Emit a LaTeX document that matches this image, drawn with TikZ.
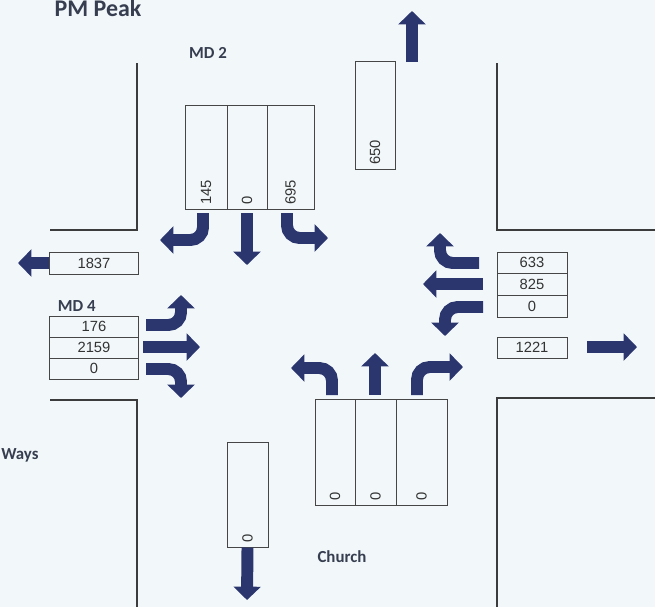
\documentclass[tikz,border=0pt]{standalone}
\usepackage{fontspec}
\setmainfont{Carlito}
\newfontfamily\numfont{Liberation Sans}
\usetikzlibrary{arrows.meta}
\definecolor{roadline}{RGB}{60, 60, 60}
\definecolor{boxline}{RGB}{70, 70, 70}
\definecolor{arrownavy}{RGB}{44, 54, 110}
\definecolor{papertint}{RGB}{242, 248, 250}
\definecolor{labelgray}{RGB}{55, 62, 80}

\begin{document}
\begin{tikzpicture}[x=0.025cm, y=-0.025cm,
    road/.style={draw=roadline, line width=0.8pt},
    hbox/.style={rectangle, draw=boxline, line width=0.7pt,
                 minimum width=2.2cm, minimum height=0.525cm,
                 inner sep=0pt, text=black!80,
                 font=\numfont\fontsize{10.5}{12}\selectfont},
    ebox/.style={hbox, minimum width=1.75cm, minimum height=0.54cm},
    lane/.style={rectangle, draw=boxline, line width=0.7pt,
                 minimum height=2.6cm, inner sep=0pt},
    vnum/.style={rotate=90, anchor=west, text=black!80,
                 font=\numfont\fontsize{10.5}{12}\selectfont},
    title/.style={font=\fontsize{12}{14}\selectfont\bfseries,
                  text=labelgray},
    flow/.style={draw=arrownavy, line width=8.5pt,
                 -{Triangle[width=19pt, length=9.5pt]}},
    turn/.style={flow, rounded corners=9pt}]

    \useasboundingbox (0,0) rectangle (655,607);
    \fill[papertint] (0,0) rectangle (655,607);

    % Road edges
    \draw[road] (137,63) -- (137,230) -- (50,230);
    \draw[road] (497,63) -- (497,230) -- (655,230);
    \draw[road] (50,400) -- (137,400) -- (137,607);
    \draw[road] (655,398) -- (497,398) -- (497,607);

    % Labels
    \node[title, font=\fontsize{17}{20}\selectfont\bfseries,
          anchor=base] (peak) at (98,16) {PM Peak};
    \node[title, anchor=base] (md2) at (208,58) {MD 2};
    \node[title, anchor=base west] (md4) at (53,311) {MD 4};
    \node[title, anchor=base] (church) at (342,562) {Church};
    \node[title, anchor=base west, inner sep=0pt] (ways) at (1,459) {Ways};

    % North approach (MD 2)
    \node[lane, minimum width=1.05cm]  (n1) at (206,157)   {};
    \node[lane, minimum width=1.0cm]   (n2) at (247,157)   {};
    \node[lane, minimum width=1.175cm] (n3) at (290.5,157) {};
    \node[vnum] (n1v) at (n1.south) {145};
    \node[vnum] (n2v) at (n2.south) {0};
    \node[vnum] (n3v) at (n3.south) {695};

    % North exit
    \node[lane, minimum width=1.0cm, minimum height=2.675cm] (nx) at (375,115.5) {};
    \node[vnum] (nxv) at (nx.south) {650};

    % West exit and approach (MD 4)
    \node[hbox, minimum height=0.55cm] (wx) at (94,263) {1837};
    \node[hbox] (w1) at (94,326.5) {176};
    \node[hbox] (w2) at (94,347.5) {2159};
    \node[hbox] (w3) at (94,368.5) {0};

    % East approach and exit
    \node[ebox] (e1) at (532,262.8) {633};
    \node[ebox] (e2) at (532,284.5) {825};
    \node[ebox] (e3) at (532,306.2) {0};
    \node[ebox, minimum height=0.525cm] (ex) at (532,347.5) {1221};

    % South approach (Church)
    \node[lane, minimum width=1.0cm, minimum height=2.65cm]   (s1) at (335,452)   {};
    \node[lane, minimum width=1.025cm, minimum height=2.65cm] (s2) at (375.5,452) {};
    \node[lane, minimum width=1.275cm, minimum height=2.65cm] (s3) at (421.5,452) {};
    \node[vnum] (s1v) at (s1.south) {0};
    \node[vnum] (s2v) at (s2.south) {0};
    \node[vnum] (s3v) at (s3.south) {0};

    % South exit
    \node[lane, minimum width=1.025cm, minimum height=2.625cm] (sx) at (247.5,494.5) {};
    \node[vnum] (sxv) at (sx.south) {0};

    % Movements from MD 2
    \draw[turn] (203,213) |- (160,240);
    \draw[flow] (247,213) -- (247,265);
    \draw[turn] (287,213) |- (328,238);

    % Movements from MD 4
    \draw[turn] (146,325) -| (181,295);
    \draw[flow] (143,347) -- (200,347);
    \draw[turn] (146,369) -| (181,398);

    % Movements from the east
    \draw[turn] (479,263) -| (440,233);
    \draw[flow] (483,284) -- (423,284);
    \draw[turn] (483,307) -| (445,336);

    % Movements from Church
    \draw[turn] (332,395) |- (291,368);
    \draw[flow] (375,395) -- (375,353);
    \draw[turn] (417,395) |- (463,367);

    % Exits
    \draw[flow] (412,62) -- (412,11);
    \draw[flow] (sx.south) -- (247,600);
    \draw[flow] (wx.west) -- (18,263);
    \draw[flow] (587,347) -- (637,347);
\end{tikzpicture}
\end{document}
